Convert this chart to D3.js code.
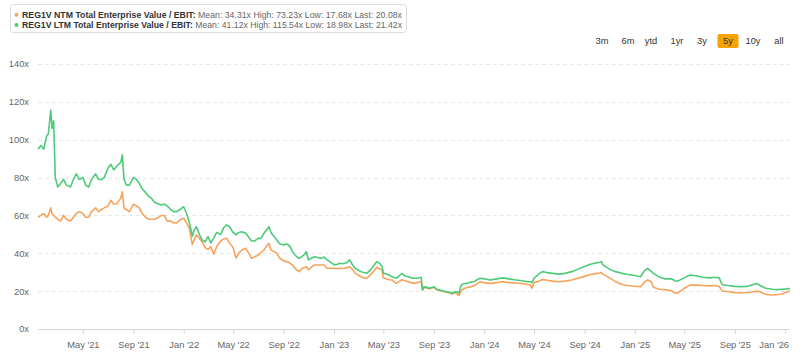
<!DOCTYPE html>
<html>
<head>
<meta charset="utf-8">
<script src="https://cdn.jsdelivr.net/npm/d3@7"></script>
<style>
  html, body { margin: 0; padding: 0; background: #fff; }
  svg { display: block; font-family: "Liberation Sans", Arial, sans-serif; }
</style>
</head>
<body>
<svg id="chart" width="800" height="355"></svg>
<script>
// ---- DATA ----
const dates = [
"2021-01-12","2021-01-19","2021-01-26","2021-02-02","2021-02-06","2021-02-12","2021-02-15","2021-02-19","2021-02-23",
"2021-03-01","2021-03-08","2021-03-15","2021-03-22","2021-04-01","2021-04-08","2021-04-15","2021-04-22",
"2021-05-01","2021-05-08","2021-05-15","2021-05-22","2021-06-01","2021-06-08","2021-06-15","2021-06-22",
"2021-07-01","2021-07-08","2021-07-15","2021-07-22","2021-08-01","2021-08-05","2021-08-09","2021-08-15","2021-08-22",
"2021-09-01","2021-09-08","2021-09-15","2021-09-22","2021-10-01","2021-10-08","2021-10-15","2021-10-22",
"2021-11-01","2021-11-08","2021-11-15","2021-11-22","2021-12-01","2021-12-08","2021-12-15","2021-12-22",
"2022-01-01","2022-01-08","2022-01-15","2022-01-22","2022-01-26","2022-02-01","2022-02-08","2022-02-15","2022-02-22",
"2022-03-01","2022-03-08","2022-03-15","2022-03-22","2022-04-01","2022-04-08","2022-04-15","2022-04-22",
"2022-05-01","2022-05-08","2022-05-15","2022-05-22","2022-06-01","2022-06-08","2022-06-15","2022-06-22",
"2022-07-01","2022-07-08","2022-07-15","2022-07-22","2022-07-27","2022-08-01","2022-08-08","2022-08-15","2022-08-22",
"2022-09-01","2022-09-08","2022-09-15","2022-09-22","2022-10-01","2022-10-08","2022-10-15","2022-10-22","2022-10-26","2022-10-31",
"2022-11-08","2022-11-15","2022-11-22","2022-12-01","2022-12-08","2022-12-15","2022-12-22",
"2023-01-01","2023-01-08","2023-01-15","2023-01-22","2023-02-01","2023-02-08","2023-02-15","2023-02-22",
"2023-03-01","2023-03-08","2023-03-15","2023-03-22","2023-04-01","2023-04-08","2023-04-15","2023-04-22","2023-04-28",
"2023-05-01","2023-05-08","2023-05-15","2023-05-22","2023-06-01","2023-06-08","2023-06-15","2023-06-22",
"2023-07-01","2023-07-08","2023-07-15","2023-07-22","2023-08-01","2023-08-04","2023-08-08","2023-08-15","2023-08-22",
"2023-09-01","2023-09-08","2023-09-15","2023-09-22","2023-10-01","2023-10-08","2023-10-15","2023-10-22","2023-10-29",
"2023-11-01","2023-11-04","2023-11-08","2023-11-15","2023-11-22","2023-12-01","2023-12-08","2023-12-15","2023-12-22",
"2024-01-01","2024-01-15","2024-02-01","2024-02-15","2024-03-01","2024-03-15","2024-04-01","2024-04-15","2024-04-22","2024-04-26",
"2024-05-01","2024-05-15","2024-05-22","2024-06-01","2024-06-15","2024-07-01","2024-07-15","2024-08-01","2024-08-15",
"2024-09-01","2024-09-15","2024-10-01","2024-10-08","2024-10-12","2024-10-15","2024-11-01","2024-11-15","2024-12-01","2024-12-15",
"2025-01-01","2025-01-15","2025-01-25","2025-02-01","2025-02-10","2025-02-15","2025-03-01","2025-03-15","2025-04-01","2025-04-08","2025-04-15",
"2025-05-01","2025-05-15","2025-06-01","2025-06-15","2025-07-01","2025-07-15","2025-07-25","2025-08-01","2025-08-15",
"2025-09-01","2025-09-15","2025-10-01","2025-10-15","2025-10-25","2025-11-01","2025-11-15","2025-12-01","2025-12-15","2025-12-25",
"2026-01-05","2026-01-13"
];

const ltmValues = [
95,97,95,102,103,115.5,106,110,80,
75,77,79,76,75,79,82,79,
80,76,75,79,82,79,79,80,
85,87,84,86,88,92,79,76,76,
80,79,77,74,72,70,69,67,
66,65.5,66,65,63,62,62,63,
64.6,61,56,49,52,54,50,47,46,
48.8,45.5,48,51,50,53.5,55,54,
51,49.7,51,51.4,50.6,48.5,46.5,46.5,
47.9,48,50.6,52.5,54,51,49,47,45,
44.4,45,44,41,38.5,37.3,38.2,39.5,40.8,36.5,
37.5,38.2,37.8,37.3,38,36.5,35.6,
34,34,34.7,34.5,35,36.5,34,32,
31,30.3,29.8,29.4,31.5,33.5,35.6,34.7,33,
29.5,29,28.5,27.6,26.8,28,29.4,28,
27.6,27,26.8,26.8,27.3,20.6,22.3,22,21.5,
22.3,21,20.6,20.2,19.7,19.5,18.8,19.7,19.5,
18.98,22,23.5,24,24.1,25,25,26,26.8,
26.5,25.9,26.5,27,26.5,26,25.5,25,25,24.5,
26.8,29.5,30.3,29.8,29.4,29,29.4,30.3,31.5,
33,34.2,35,35.3,35.6,34,31.5,30.3,29.4,28.8,
28.3,27.6,31,32,30.5,29.4,27.5,26.5,26.5,25.5,25.3,
27,28.5,28,27.3,27,27.3,27,23.5,23,
22.5,22.3,22.5,23.5,24,23,21.5,21,20.8,21,
21.2,21.42
];

const ntmValues = [
59,60,61,59,60,64,61,60,59,
58,57,60,58,57,59,61,62,
61,59,59,62,64,62,63,64,
65,68,66,66,69,72.5,64,63,62,
66,65,64,61,59,58,58,58,
59,60,60,57,57,56,56,57.5,
58.5,56,53,44.5,47,49.7,48,46,43,
42,43.5,39.5,43.5,46.5,47.5,48,45.5,
43,37.5,40,41.7,42.6,40,37.3,38,
39.1,40.5,41.7,44,45.3,41.7,41,40,37.5,
36,35.6,35,33.8,31.5,30.3,32,32.5,32.9,31.2,
32.9,33.8,33.8,33.8,33.8,32.1,32.1,
32.1,32,32.1,32,32.3,32.9,31.5,29.4,
28.5,27.6,27,26.8,29,30.5,32.6,31.8,31,
27,26.5,26,25.9,24.1,25,26,25.5,
25,24.5,24.1,24.5,25,20.6,22,21.6,21.2,
22,20.6,20.3,19.9,19.4,19.2,18.5,19.3,18,
17.68,19.5,20.6,21.5,22,22.3,23,24,25,
24.5,24.1,24.5,25,24.5,24.3,24,23.5,23.2,21.5,
24.5,25.5,26.2,25.8,25.3,25,25.3,25.9,26.8,
27.8,28.8,29.4,29.6,29.8,29,27,25,23.5,23,
22.6,22.3,25,25.9,25,22,21,20.8,20.2,19,19,
21.5,23.2,23.2,23,22.8,23,22.5,20,19.8,
19.2,19,19.3,19.7,20,19.7,18.3,18,18.2,18.5,
19.5,20.08
];

const yTicks = [0, 20, 40, 60, 80, 100, 120, 140];
const xTickDates = ["2021-05-01","2021-09-01","2022-01-01","2022-05-01","2022-09-01","2023-01-01","2023-05-01",
  "2023-09-01","2024-01-01","2024-05-01","2024-09-01","2025-01-01","2025-05-01","2025-09-01","2026-01-01"];
const rangeButtons = ["3m","6m","ytd","1yr","3y","5y","10y","all"];
const activeButton = "5y";

const seriesInfo = [
  {name: "REG1V NTM Total Enterprise Value / EBIT:", stats: " Mean: 34.31x High: 73.23x Low: 17.68x Last: 20.08x", values: ntmValues, color: "#f7a35c"},
  {name: "REG1V LTM Total Enterprise Value / EBIT:", stats: " Mean: 41.12x High: 115.54x Low: 18.98x Last: 21.42x", values: ltmValues, color: "#4ccb78"}
];

// ---- CHART ----
const FONT = "Liberation Sans, Arial, sans-serif";
const svg = d3.select("#chart");
const parse = d3.utcParse("%Y-%m-%d");
const dateObjs = dates.map(parse);

const x = d3.scaleUtc().domain(d3.extent(dateObjs)).range([38, 790]);
const y = d3.scaleLinear().domain([0, 140]).range([329, 64]);

// Grid lines
const grid = svg.append("g");
grid.selectAll("line").data(yTicks.filter(d => d > 0)).join("line")
  .attr("x1", 38).attr("x2", 790)
  .attr("y1", d => Math.round(y(d)) + 0.5).attr("y2", d => Math.round(y(d)) + 0.5)
  .attr("stroke", "#e8e8e8").attr("stroke-dasharray", "4,3").attr("stroke-width", 1);

// Y axis labels
const yAxis = d3.axisLeft(y).tickValues(yTicks).tickFormat(d => d + "x").tickSize(0).tickPadding(0);
const yg = svg.append("g").attr("transform", "translate(29,0)").call(yAxis);
yg.select(".domain").remove();
yg.selectAll("text").attr("fill", "#666").attr("font-size", 9.3).attr("font-family", FONT);

// X axis
const xAxis = d3.axisBottom(x).tickValues(xTickDates.map(parse)).tickFormat(d3.utcFormat("%b '%y")).tickSize(5).tickPadding(7);
const xg = svg.append("g").attr("transform", `translate(0,${Math.round(y(0))})`).call(xAxis);
xg.select(".domain").attr("d", `M38,0.5H790`).attr("stroke", "#d8d8d8");
xg.selectAll(".tick line").attr("stroke", "#d8d8d8");
xg.selectAll("text").attr("fill", "#666").attr("font-size", 9.3).attr("font-family", FONT);
// keep last label inside the chart edge
xg.selectAll(".tick").each(function() {
  const g = d3.select(this);
  const t = g.select("text");
  const bb = this.getBBox();
  const m = /translate\(([-\d.]+)/.exec(g.attr("transform"));
  const tx = m ? +m[1] : 0;
  const w = t.node().getComputedTextLength();
  if (tx + w / 2 > 789) t.attr("dx", 789 - (tx + w / 2));
});

// Lines (NTM drawn first, LTM on top)
const line = d3.line().x((d, i) => x(dateObjs[i])).y(d => y(d));
seriesInfo.forEach(s => {
  svg.append("path").datum(s.values)
    .attr("d", line).attr("fill", "none")
    .attr("stroke", s.color).attr("stroke-width", 1.6).attr("stroke-linejoin", "round");
});

// Legend box
const lg = svg.append("g");
lg.append("rect").attr("x", 10.5).attr("y", 4.5).attr("width", 396).attr("height", 28).attr("rx", 3)
  .attr("fill", "#fff").attr("stroke", "#dcdcdc");
seriesInfo.forEach((s, i) => {
  const cy = 14.8 + i * 10.3;
  lg.append("circle").attr("cx", 16.5).attr("cy", cy).attr("r", 2).attr("fill", s.color);
  const t = lg.append("text").attr("x", 22).attr("y", cy + 3.2).attr("font-size", 8.8).attr("font-family", FONT);
  t.append("tspan").attr("font-weight", "bold").attr("fill", "#333").text(s.name);
  t.append("tspan").attr("fill", "#666").text(s.stats);
  const w = t.node().getComputedTextLength();
  if (w > 380) t.attr("textLength", 380).attr("lengthAdjust", "spacingAndGlyphs");
});

// Range buttons
const btnX = [602, 628, 651, 677, 702, 728, 753, 779];
const bg = svg.append("g");
rangeButtons.forEach((b, i) => {
  if (b === activeButton) {
    bg.append("rect").attr("x", btnX[i] - 10.5).attr("y", 34).attr("width", 21).attr("height", 14).attr("rx", 2)
      .attr("fill", "#f5a300");
  }
  bg.append("text").attr("x", btnX[i]).attr("y", 44).attr("text-anchor", "middle")
    .attr("font-size", 9.3).attr("fill", "#333").attr("font-family", FONT).text(b);
});
</script>
</body>
</html>
